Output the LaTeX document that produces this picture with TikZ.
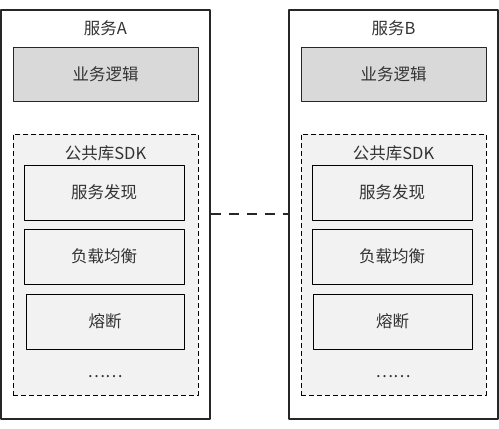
\documentclass[tikz,border=0pt]{standalone}
\usepackage{fontspec}
\setmainfont{Noto Sans CJK SC}
\definecolor{logicgray}{HTML}{D9D9D9}
\definecolor{sdkgray}{HTML}{F2F2F2}
\definecolor{textgray}{HTML}{333333}
\begin{document}
\begin{tikzpicture}[>=latex,line join=bevel,
  font=\fontsize{16.5bp}{19bp}\selectfont,text=textgray,
  svcbox/.style={draw=black!85,line width=1.5bp,fill=white,minimum width=209bp,minimum height=409bp,inner sep=0pt},
  logicbox/.style={draw=black!85,line width=0.9bp,fill=logicgray,minimum width=185bp,minimum height=54bp,inner sep=0pt},
  sdkbox/.style={draw=black,line width=0.9bp,dash pattern=on 5bp off 3bp,fill=sdkgray,minimum width=185bp,minimum height=261bp,inner sep=0pt},
  modbox/.style={draw=black,line width=0.9bp,fill=sdkgray,minimum width=160bp,minimum height=55bp,inner sep=0pt},
  ]
\useasboundingbox (0bp,0bp) rectangle (499bp,429bp);
%%
\node (node_svca) at (105.5bp,214.5bp) [svcbox] {};
  \node (node_svcb) at (393.5bp,214.5bp) [svcbox] {};
  \node (node_titlea) at (105.5bp,401bp) [draw=none] {服务A};
  \node (node_titleb) at (393.5bp,401bp) [draw=none] {服务B};
  \node (node_logica) at (105.5bp,355bp) [logicbox] {业务逻辑};
  \node (node_logicb) at (393.5bp,355bp) [logicbox] {业务逻辑};
  \node (node_sdka) at (105.5bp,164.5bp) [sdkbox] {};
  \node (node_sdkb) at (393.5bp,164.5bp) [sdkbox] {};
  \node (node_sdktitlea) at (105.5bp,276bp) [draw=none] {公共库SDK};
  \node (node_sdktitleb) at (393.5bp,276bp) [draw=none] {公共库SDK};
  \node (node_discoverya) at (104bp,236.5bp) [modbox] {服务发现};
  \node (node_discoveryb) at (392bp,236.5bp) [modbox] {服务发现};
  \node (node_balancea) at (104bp,172.5bp) [modbox] {负载均衡};
  \node (node_balanceb) at (392bp,172.5bp) [modbox] {负载均衡};
  \node (node_breakera) at (105bp,107.5bp) [modbox,minimum width=158bp] {熔断};
  \node (node_breakerb) at (392.5bp,107.5bp) [modbox,minimum width=159bp] {熔断};
  \node (node_dotsa) at (105bp,52bp) [draw=none] {……};
  \node (node_dotsb) at (393bp,52bp) [draw=none] {……};
  \draw [black!85,line width=2bp,dash pattern=on 10bp off 8bp] (node_svca.east) -- (node_svcb.west);
%
\end{tikzpicture}
\end{document}
